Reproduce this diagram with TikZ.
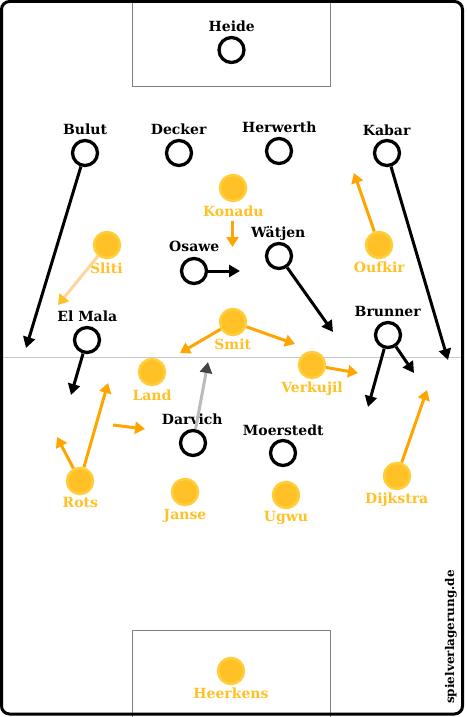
\documentclass[tikz,border=0pt]{standalone}
\usepackage{fontspec}
\setmainfont{DejaVu Serif}
\usetikzlibrary{arrows.meta}
\definecolor{ylw}{HTML}{FFC125}
\definecolor{ylwring}{HTML}{FFCE3C}
\definecolor{org}{HTML}{FFA500}
\definecolor{pale}{HTML}{FFD699}
\definecolor{lgray}{HTML}{BBBBBB}
\definecolor{dgray}{HTML}{444444}
\begin{document}
\begin{tikzpicture}[x=1pt,y=-1pt,
  blk/.style={circle,draw=black,line width=3.3pt,minimum size=25pt,inner sep=0pt},
  yel/.style={circle,fill=ylw,draw=ylwring,line width=2.5pt,minimum size=26pt,inner sep=0pt},
  bl/.style={font=\bfseries\fontsize{14}{15}\selectfont,anchor=base,inner sep=0pt,text=black},
  yl/.style={bl,text=ylw},
  barr/.style={line width=3pt,draw=black,-{Triangle[length=11pt,width=12pt]}},
  oarr/.style={line width=3pt,draw=org,-{Triangle[length=10pt,width=12pt]}},
]
\useasboundingbox (0,0) rectangle (466,717);
\fill[white] (0,0) rectangle (466,717);
% pitch
\draw[lgray!80,line width=1pt] (2,357) -- (462,357);
\draw[gray,line width=1pt] (132.7,0) -- (132.7,86) -- (330.7,86) -- (330.7,0);
\draw[gray,line width=1pt] (132.7,717) -- (132.7,630) -- (330.7,630) -- (330.7,717);
\draw[line width=3pt,rounded corners=8pt] (1.5,1.5) rectangle (462.5,714);

% black team
\node[blk] (heide) at (231.5,50) {};
\node[bl] (heideL) at (231.7,31.5) {Heide};
\node[blk] (bulut) at (85,153) {};
\node[bl] (bulutL) at (85,134) {Bulut};
\node[blk] (decker) at (179,153) {};
\node[bl] (deckerL) at (178.7,134) {Decker};
\node[blk] (herwerth) at (279,151) {};
\node[bl] (herwerthL) at (279.3,132.7) {Herwerth};
\node[blk] (kabar) at (387,153) {};
\node[bl] (kabarL) at (386.7,135) {Kabar};
\node[blk] (osawe) at (194,271) {};
\node[bl] (osaweL) at (194.3,251.7) {Osawe};
\node[blk] (watjen) at (279,256) {};
\node[bl] (watjenL) at (278.3,237) {Wätjen};
\node[blk] (elmala) at (87,340) {};
\node[bl] (elmalaL) at (87.3,321.7) {El Mala};
\node[blk] (brunner) at (388,335) {};
\node[bl] (brunnerL) at (387.7,316.7) {Brunner};
\node[blk] (darvich) at (193,443) {};
\node[bl] (darvichL) at (192.3,424.3) {Darvich};
\node[blk] (moerstedt) at (283,453) {};
\node[bl] (moerstedtL) at (283.3,435) {Moerstedt};

% yellow team
\node[yel] (konadu) at (233,188) {};
\node[yl] (konaduL) at (233.3,216.7) {Konadu};
\node[yel] (sliti) at (107,245) {};
\node[yl] (slitiL) at (106.3,273.3) {Sliti};
\node[yel] (oufkir) at (379,245) {};
\node[yl] (oufkirL) at (379.3,272.7) {Oufkir};
\node[yel] (smit) at (233,322) {};
\node[yl] (smitL) at (232.7,349.3) {Smit};
\node[yel] (land) at (152,372) {};
\node[yl] (landL) at (152,400) {Land};
\node[yel] (verkujil) at (312,365) {};
\node[yl] (verkujilL) at (312,392.7) {Verkujil};
\node[yel] (rots) at (80,481) {};
\node[yl] (rotsL) at (80.3,507.7) {Rots};
\node[yel] (janse) at (185,492) {};
\node[yl] (janseL) at (185,519.3) {Janse};
\node[yel] (ugwu) at (286,495) {};
\node[yl] (ugwuL) at (286,521.7) {Ugwu};
\node[yel] (dijkstra) at (397,476) {};
\node[yl] (dijkstraL) at (396.7,503.3) {Dijkstra};
\node[yel] (heerkens) at (231,671) {};
\node[yl] (heerkensL) at (231,698.3) {Heerkens};

% arrow targets
\coordinate (tBulut) at (26,348);
\coordinate (tKabar) at (448,360);
\coordinate (tOsawe) at (240,271);
\coordinate (tWatjen) at (333,332);
\coordinate (tElMala) at (71,395);
\coordinate (tBrunnerA) at (368,407);
\coordinate (tBrunnerB) at (414,373);
\coordinate (tDarvich) at (208,362);
\coordinate (sKonadu) at (232.5,220.5);
\coordinate (tKonadu) at (232.5,247);
\coordinate (tSliti) at (58,305);
\coordinate (tOufkir) at (354,173);
\coordinate (tSmitL) at (180,353);
\coordinate (tSmitR) at (295,344);
\coordinate (tVerkujil) at (358,373);
\coordinate (sRun) at (113,425);
\coordinate (tRun) at (145,429);
\coordinate (tRotsA) at (108,383);
\coordinate (tRotsB) at (57,437);
\coordinate (tDijkstra) at (427,390);

% black arrows
\draw[barr] (bulut) -- (tBulut);
\draw[barr] (kabar) -- (tKabar);
\draw[barr] (osawe) -- (tOsawe);
\draw[barr] (watjen) -- (tWatjen);
\draw[barr] (elmala) -- (tElMala);
\draw[barr] (brunner) -- (tBrunnerA);
\draw[barr] (brunner) -- (tBrunnerB);
\draw[line width=3pt,draw=lgray,-{Triangle[length=11pt,width=12pt,color=dgray]}] (darvich) -- (tDarvich);

% orange arrows
\draw[oarr] (sKonadu) -- (tKonadu);
\draw[line width=3pt,draw=pale,-{Triangle[length=10pt,width=12pt,color=ylw]}] (sliti) -- (tSliti);
\draw[oarr] (oufkir) -- (tOufkir);
\draw[oarr] (smit) -- (tSmitL);
\draw[oarr] (smit) -- (tSmitR);
\draw[oarr] (verkujil) -- (tVerkujil);
\draw[oarr] (sRun) -- (tRun);
\draw[oarr] (rots) -- (tRotsA);
\draw[oarr] (rots) -- (tRotsB);
\draw[oarr] (dijkstra) -- (tDijkstra);

% watermark
\node[rotate=90,font=\bfseries\fontsize{12}{13}\selectfont,inner sep=0pt] (wm) at (451,637) {spielverlagerung.de};
\end{tikzpicture}
\end{document}
